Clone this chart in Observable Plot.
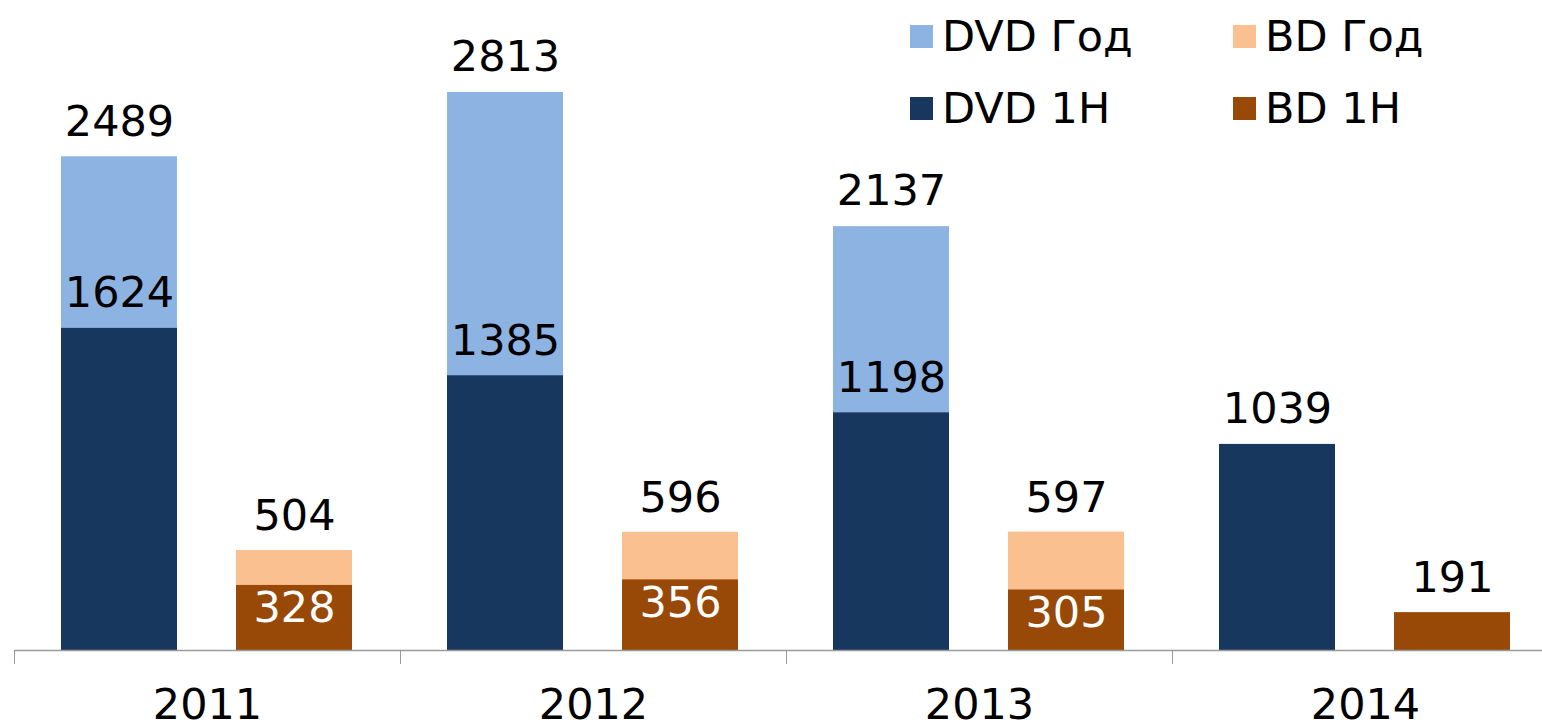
<!DOCTYPE html>
<html><head><meta charset="utf-8">
<script src="https://cdn.jsdelivr.net/npm/d3@7"></script>
<script src="https://cdn.jsdelivr.net/npm/@observablehq/plot@0.6"></script>
<style>
html,body{margin:0;padding:0;background:#fff;}
#wrap{position:relative;width:1542px;height:723px;overflow:hidden;font-family:"DejaVu Sans",Verdana,sans-serif;}
#legend{position:absolute;left:910px;top:11px;display:grid;grid-template-columns:323px 260px;row-gap:22px;font-size:43px;color:#000;}
.item{display:flex;align-items:center;height:50px;white-space:nowrap;}
.sw{width:23px;height:23px;margin-right:9px;flex:none;}
</style></head>
<body><div id="wrap"><div id="legend"></div></div>
<script>
const years = ["2011", "2012", "2013", "2014"];
const dvdYear = [2489, 2813, 2137, null];
const dvdH1 = [1624, 1385, 1198, 1039];
const bdYear = [504, 596, 597, null];
const bdH1 = [328, 356, 305, 191];
const seriesNames = ["DVD Год", "BD Год", "DVD 1H", "BD 1H"];
const seriesColors = ["#8db3e2", "#fac090", "#17375e", "#984807"];

const rows = years.map((y, i) => ({i, year: y, dvdYear: dvdYear[i], dvdH1: dvdH1[i], bdYear: bdYear[i], bdH1: bdH1[i]}));
const x1 = d => d.i, x2 = d => d.i + 1;
const font = {fontFamily: "DejaVu Sans, Verdana, sans-serif", fontSize: 43};
const dvdInset = {insetLeft: 47, insetRight: 223};
const bdInset = {insetLeft: 222, insetRight: 48};
const dvdCenter = d => d.i + 105 / 386;
const bdCenter = d => d.i + 280 / 386;

const chart = Plot.plot({
  width: 1542, height: 723,
  marginTop: 0, marginBottom: 73, marginLeft: 14, marginRight: 0,
  style: {background: "transparent", overflow: "visible"},
  x: {type: "linear", domain: [0, 4], range: [14, 1558]},
  y: {domain: [0, 3277], axis: null},
  marks: [
    Plot.rectY(rows.filter(d => d.dvdYear != null), {x1, x2, y1: 0, y2: "dvdYear", fill: seriesColors[0], ...dvdInset}),
    Plot.rectY(rows.filter(d => d.bdYear != null), {x1, x2, y1: 0, y2: "bdYear", fill: seriesColors[1], ...bdInset}),
    Plot.rectY(rows, {x1, x2, y1: 0, y2: "dvdH1", fill: seriesColors[2], ...dvdInset}),
    Plot.rectY(rows, {x1, x2, y1: 0, y2: "bdH1", fill: seriesColors[3], ...bdInset}),
    Plot.ruleY([0], {stroke: "#9a9a9a", strokeWidth: 1.5}),
    Plot.axisX({ticks: [0, 1, 2, 3, 4], tickSize: 14, tickFormat: () => "", stroke: "#9a9a9a"}),
    Plot.axisX({ticks: [0.5, 1.5, 2.5, 3.5], tickSize: 0, tickPadding: 38, tickFormat: v => years[Math.floor(v)], ...font, fill: "#000", lineAnchor: "top"}),
    Plot.text(rows.filter(d => d.dvdYear != null), {x: dvdCenter, y: "dvdYear", text: d => String(d.dvdYear), dy: -35, fill: "#000", ...font}),
    Plot.text(rows, {x: dvdCenter, y: "dvdH1", text: d => String(d.dvdH1), dy: -35, fill: "#000", ...font}),
    Plot.text(rows.filter(d => d.bdYear != null), {x: bdCenter, y: "bdYear", text: d => String(d.bdYear), dy: -34, fill: "#000", ...font}),
    Plot.text(rows.filter(d => d.bdYear != null), {x: bdCenter, y: "bdH1", text: d => String(d.bdH1), dy: 23, fill: "#fff", ...font}),
    Plot.text(rows.filter(d => d.bdYear == null), {x: bdCenter, y: "bdH1", text: d => String(d.bdH1), dy: -34, fill: "#000", ...font})
  ]
});
const wrap = document.getElementById("wrap");
wrap.insertBefore(chart, wrap.firstChild);
const legend = document.getElementById("legend");
seriesNames.forEach((n, k) => {
  const it = document.createElement("div");
  it.className = "item";
  it.innerHTML = `<span class="sw" style="background:${seriesColors[k]}"></span><span>${n}</span>`;
  legend.appendChild(it);
});
</script></body></html>
